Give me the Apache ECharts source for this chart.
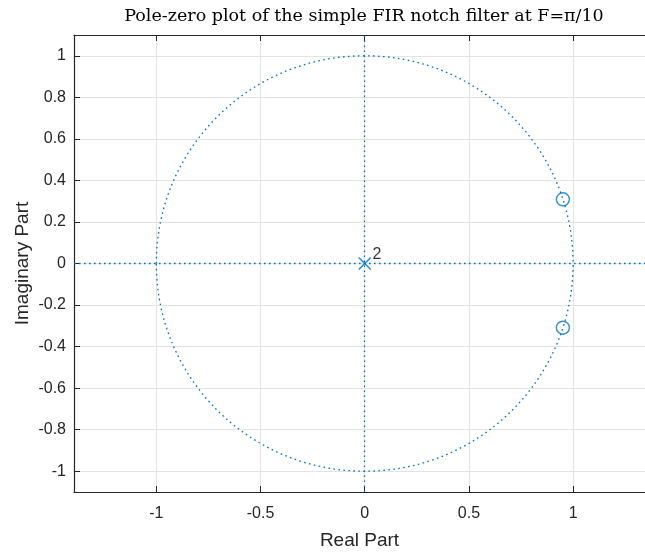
<!DOCTYPE html>
<html>
<head>
<meta charset="utf-8">
<script src="https://cdn.jsdelivr.net/npm/echarts@6/dist/echarts.min.js"></script>
<style>
  html, body { margin: 0; padding: 0; background: #fff; }
  #main { width: 645px; height: 552px; }
</style>
</head>
<body>
<div id="main"></div>
<script>
// zeros / poles of the notch filter (F = pi/10)
var zerosRe = [0.951, 0.951];
var zerosIm = [0.309, -0.309];
var polesRe = [0];
var polesIm = [0];
var poleMult = ['2'];

// axis ticks
var xTicks = [-1, -0.5, 0, 0.5, 1];
var yTicks = [-1, -0.8, -0.6, -0.4, -0.2, 0, 0.2, 0.4, 0.6, 0.8, 1];

var blue = '#0072BD';
var axisCol = '#262626';
var gridCol = '#e3e3e3';
var sans = 'Liberation Sans, Arial, Helvetica, sans-serif';
var dots = [1.6, 3.4];

var myChart = echarts.init(document.getElementById('main'));

var zeroData = zerosRe.map(function (v, i) { return [v, zerosIm[i]]; });
var poleData = polesRe.map(function (v, i) { return [v, polesIm[i], poleMult[i]]; });

var option = {
    backgroundColor: '#FFFFFF',
    animation: false,
    title: {
        text: 'Pole-zero plot of the simple FIR notch filter at F=\u03c0/10',
        left: 359,
        top: 2,
        textAlign: 'center',
        textStyle: {
            fontFamily: 'DejaVu Serif, serif',
            fontWeight: 'normal',
            fontSize: 17.5,
            color: '#000'
        }
    },
    grid: {
        left: 74,
        right: 0,
        top: 35,
        bottom: 60,
        outerBoundsMode: 'none'
    },
    xAxis: [{
        type: 'value',
        min: -1.395,
        max: 1.345,
        position: 'bottom',
        name: 'Real Part',
        nameLocation: 'middle',
        nameGap: 39,
        nameMoveOverlap: false,
        nameTextStyle: { fontFamily: sans, fontSize: 19, color: axisCol },
        axisLine: { onZero: false, lineStyle: { color: axisCol, width: 1.2 } },
        axisTick: { inside: true, length: 6, customValues: xTicks, lineStyle: { color: axisCol } },
        axisLabel: { customValues: xTicks, margin: 14, fontFamily: sans, fontSize: 16, color: axisCol },
        splitLine: { show: true, lineStyle: { color: gridCol } }
    }, {
        type: 'value',
        min: -1.395,
        max: 1.345,
        position: 'top',
        axisLine: { onZero: false, lineStyle: { color: axisCol, width: 1.2 } },
        axisTick: { inside: true, length: 6, customValues: xTicks, lineStyle: { color: axisCol } },
        axisLabel: { show: false },
        splitLine: { show: false }
    }],
    yAxis: {
        type: 'value',
        min: -1.1,
        max: 1.1,
        name: 'Imaginary Part',
        nameLocation: 'middle',
        nameGap: 42,
        nameMoveOverlap: false,
        nameTextStyle: { fontFamily: sans, fontSize: 19, color: axisCol },
        axisLine: { show: true, onZero: false, lineStyle: { color: axisCol, width: 1.2 } },
        axisTick: { show: true, inside: true, length: 6, customValues: yTicks, lineStyle: { color: axisCol } },
        axisLabel: { customValues: yTicks, margin: 8, fontFamily: sans, fontSize: 16, color: axisCol },
        splitLine: { show: true, lineStyle: { color: gridCol } }
    },
    series: [
        {
            // unit circle + real/imag axes (dotted)
            type: 'custom',
            silent: true,
            data: [[0, 0, 1]],
            renderItem: function (params, api) {
                var c = api.coord([api.value(0), api.value(1)]);
                var s = api.size([api.value(2), api.value(2)]);
                return {
                    type: 'ellipse',
                    shape: { cx: c[0], cy: c[1], rx: s[0], ry: s[1] },
                    style: { fill: 'none', stroke: blue, lineWidth: 1.3, lineDash: dots }
                };
            },
            markLine: {
                silent: true,
                symbol: 'none',
                label: { show: false },
                lineStyle: { color: blue, type: dots, width: 1.3 },
                data: [{ xAxis: 0 }, { yAxis: 0 }]
            }
        },
        {
            name: 'zeros',
            type: 'scatter',
            data: zeroData,
            symbol: 'circle',
            symbolSize: 13,
            itemStyle: { color: 'rgba(0,0,0,0)', borderColor: blue, borderWidth: 1.4 }
        },
        {
            name: 'poles',
            type: 'scatter',
            data: poleData,
            symbol: 'path://M0,0L10,10M10,0L0,10',
            symbolSize: 12,
            itemStyle: { color: 'rgba(0,0,0,0)', borderColor: blue, borderWidth: 1.7 },
            label: {
                show: true,
                position: 'right',
                offset: [-4, -9],
                formatter: function (p) { return p.value[2]; },
                fontFamily: sans,
                fontSize: 16,
                color: '#000'
            }
        }
    ]
};

myChart.setOption(option);
</script>
</body>
</html>
